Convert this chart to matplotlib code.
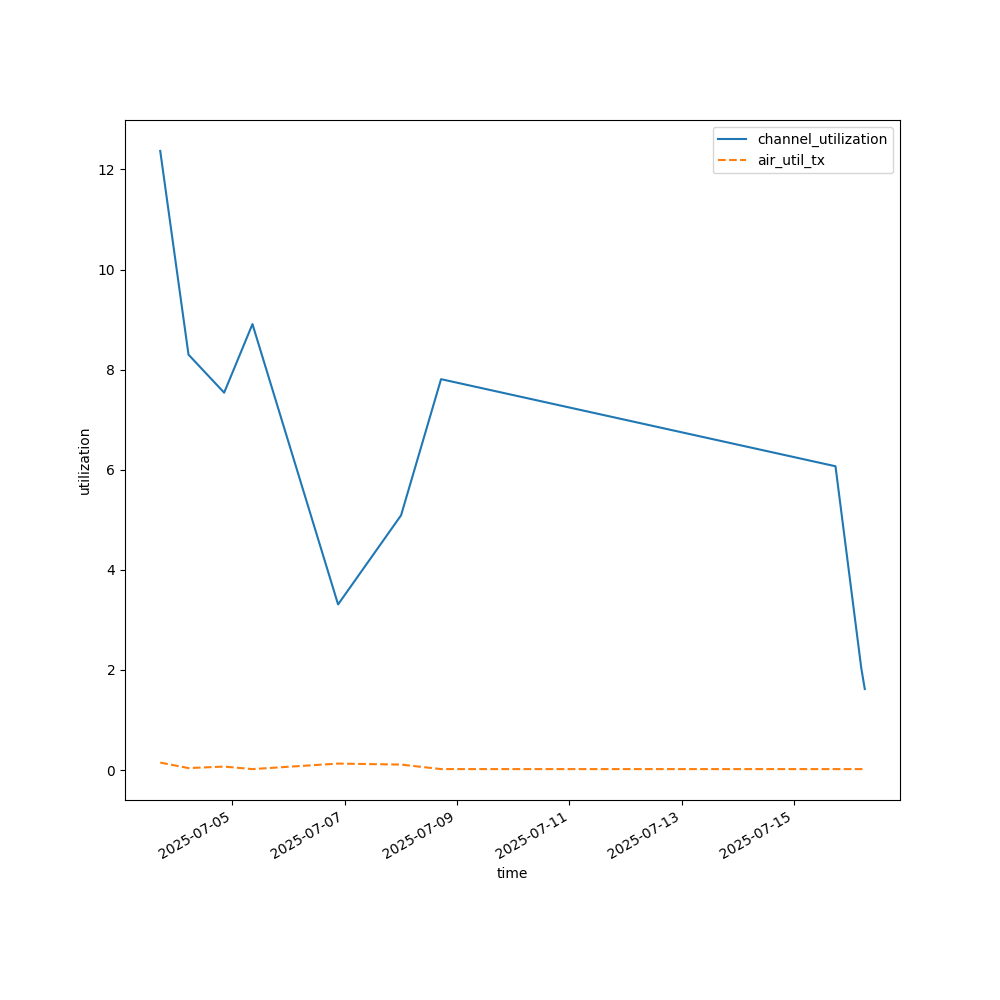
import matplotlib
matplotlib.use('Agg')
import matplotlib.pyplot as plt
import pandas as pd

times = pd.to_datetime([
    '2025-07-03 17:08', '2025-07-04 05:13', '2025-07-04 20:27',
    '2025-07-05 08:33', '2025-07-06 21:08', '2025-07-08 00:03',
    '2025-07-08 17:08', '2025-07-15 17:41', '2025-07-16 04:42',
    '2025-07-16 06:12',
])
channel_utilization = [12.37, 8.30, 7.54, 8.91, 3.31, 5.09, 7.81, 6.07, 2.04, 1.62]
air_util_tx = [0.15, 0.04, 0.07, 0.02, 0.13, 0.11, 0.02, 0.02, 0.02, 0.02]

fig = plt.figure(figsize=(10, 10), dpi=100)
ax = fig.add_subplot(111)
ax.plot(times, channel_utilization, label='channel_utilization')
ax.plot(times, air_util_tx, '--', label='air_util_tx')
ax.set_xlabel('time')
ax.set_ylabel('utilization')
ax.legend()
fig.autofmt_xdate()
fig.savefig('out.png')
